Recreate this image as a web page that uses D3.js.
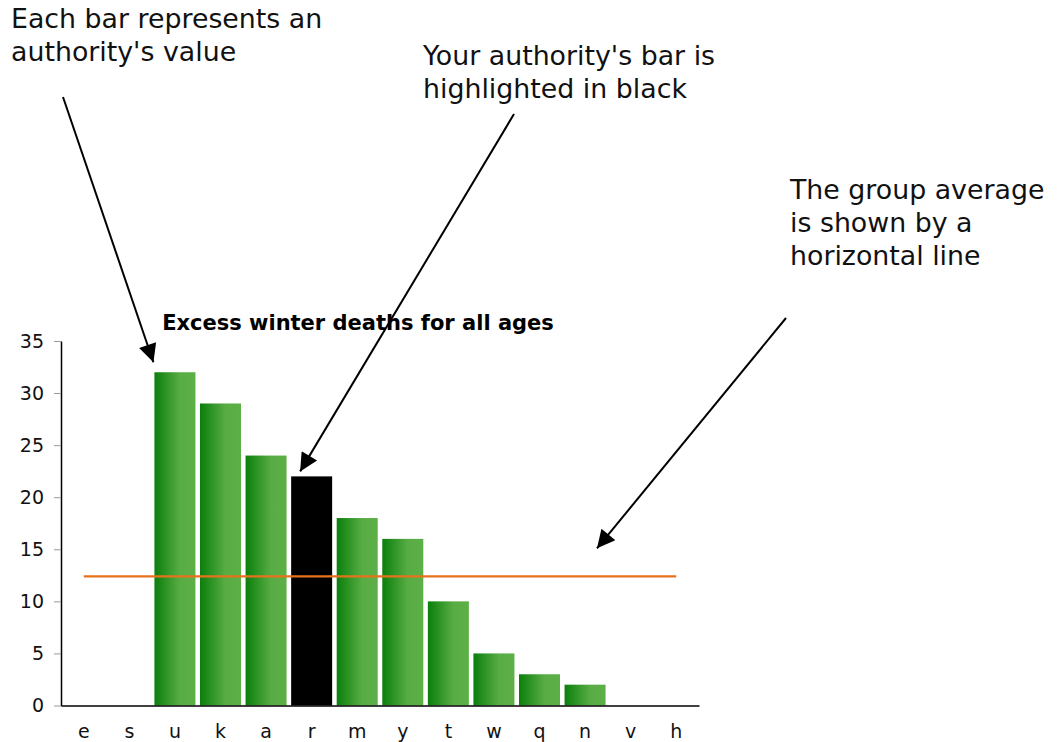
<!DOCTYPE html>
<html>
<head>
<meta charset="utf-8">
<script src="https://cdn.jsdelivr.net/npm/d3@7/dist/d3.min.js"></script>
<style>
  html, body { margin: 0; padding: 0; background: #fff; }
  svg { display: block; font-family: "DejaVu Sans", Verdana, sans-serif; }
</style>
</head>
<body>
<svg id="chart" width="1060" height="742"></svg>
<script>
const categories = ["e","s","u","k","a","r","m","y","t","w","q","n","v","h"];
const values = [0, 0, 32, 29, 24, 22, 18, 16, 10, 5, 3, 2, 0, 0];
const highlighted = "r";
const groupAverage = 12.4;
const yTicks = [0, 5, 10, 15, 20, 25, 30, 35];
const chartTitle = "Excess winter deaths for all ages";
const notes = [
  { lines: ["Each bar represents an", "authority's value"], x: 11, y: 28 },
  { lines: ["Your authority's bar is", "highlighted in black"], x: 423, y: 65 },
  { lines: ["The group average", "is shown by a", "horizontal line"], x: 790, y: 199 }
];

const svg = d3.select("#chart");
const plotLeft = 61, plotRight = 699, plotTop = 341, plotBottom = 705.5;

const x = d3.scaleBand().domain(categories).range([plotLeft, plotRight]).paddingInner(0.1).paddingOuter(0.05);
const y = d3.scaleLinear().domain([0, 35]).range([plotBottom, plotTop]);

const defs = svg.append("defs");
const grad = defs.append("linearGradient").attr("id", "barGrad").attr("x1", "0%").attr("x2", "100%").attr("y1", "0%").attr("y2", "0%");
grad.append("stop").attr("offset", "0%").attr("stop-color", "#0a7f0c");
grad.append("stop").attr("offset", "62%").attr("stop-color", "#58ac44");
grad.append("stop").attr("offset", "100%").attr("stop-color", "#5db046");

const marker = defs.append("marker").attr("id", "arrow").attr("viewBox", "0 0 10 10")
  .attr("refX", 10).attr("refY", 5).attr("markerWidth", 21).attr("markerHeight", 18)
  .attr("markerUnits", "userSpaceOnUse").attr("orient", "auto");
marker.append("path").attr("d", "M0,0 L10,5 L0,10 Z").attr("fill", "#000");

// bars
const data = categories.map((c, i) => ({ c, v: values[i] }));
svg.append("g").selectAll("rect").data(data.filter(d => d.v > 0)).join("rect")
  .attr("x", d => x(d.c))
  .attr("y", d => y(d.v))
  .attr("width", x.bandwidth())
  .attr("height", d => y(0) - y(d.v))
  .attr("fill", d => d.c === highlighted ? "#000" : "url(#barGrad)");

// average line
svg.append("line")
  .attr("x1", x(categories[0]) + x.bandwidth() / 2)
  .attr("x2", x(categories[categories.length - 1]) + x.bandwidth() / 2)
  .attr("y1", y(groupAverage)).attr("y2", y(groupAverage))
  .attr("stroke", "#e8721c").attr("stroke-width", 2.2);

// y axis
const yAxis = svg.append("g").attr("transform", `translate(${plotLeft},0)`)
  .attr("font-size", 19)
  .call(d3.axisLeft(y).tickValues(yTicks).tickSize(7).tickPadding(10).tickSizeOuter(0));
yAxis.select(".domain").attr("stroke", "#000").attr("stroke-width", 1.5);
yAxis.selectAll(".tick line").attr("stroke", "#999");
yAxis.selectAll(".tick text").style("font-size", "19px").attr("fill", "#111").style("font-family", "DejaVu Sans, Verdana, sans-serif");

// x axis
const xAxis = svg.append("g").attr("transform", `translate(0,${plotBottom})`)
  .call(d3.axisBottom(x).tickSize(0).tickPadding(19).tickSizeOuter(0));
xAxis.select(".domain").attr("stroke", "#000").attr("stroke-width", 1.5);
xAxis.selectAll(".tick text").style("font-size", "19px").attr("fill", "#111").style("font-family", "DejaVu Sans, Verdana, sans-serif");

// title
svg.append("text").attr("x", 358).attr("y", 330).attr("text-anchor", "middle")
  .attr("font-size", 21).attr("font-weight", "bold").attr("fill", "#000").text(chartTitle);

// annotations
notes.forEach(n => {
  const t = svg.append("text").attr("x", n.x).attr("y", n.y).attr("font-size", 26.8).attr("fill", "#111");
  n.lines.forEach((l, i) => t.append("tspan").attr("x", n.x).attr("dy", i === 0 ? 0 : 33).text(l));
});

// arrows: from note toward target marks
const arrows = [
  { x1: 63, y1: 97, x2: x("u") - 1, y2: y(values[2]) - 10 },
  { x1: 514, y1: 114, x2: x("r") + 9, y2: y(values[5]) - 5 },
  { x1: 786, y1: 318, x2: 597, y2: y(groupAverage) - 28 }
];
svg.append("g").selectAll("line").data(arrows).join("line")
  .attr("x1", d => d.x1).attr("y1", d => d.y1).attr("x2", d => d.x2).attr("y2", d => d.y2)
  .attr("stroke", "#000").attr("stroke-width", 2).attr("marker-end", "url(#arrow)");
</script>
</body>
</html>
